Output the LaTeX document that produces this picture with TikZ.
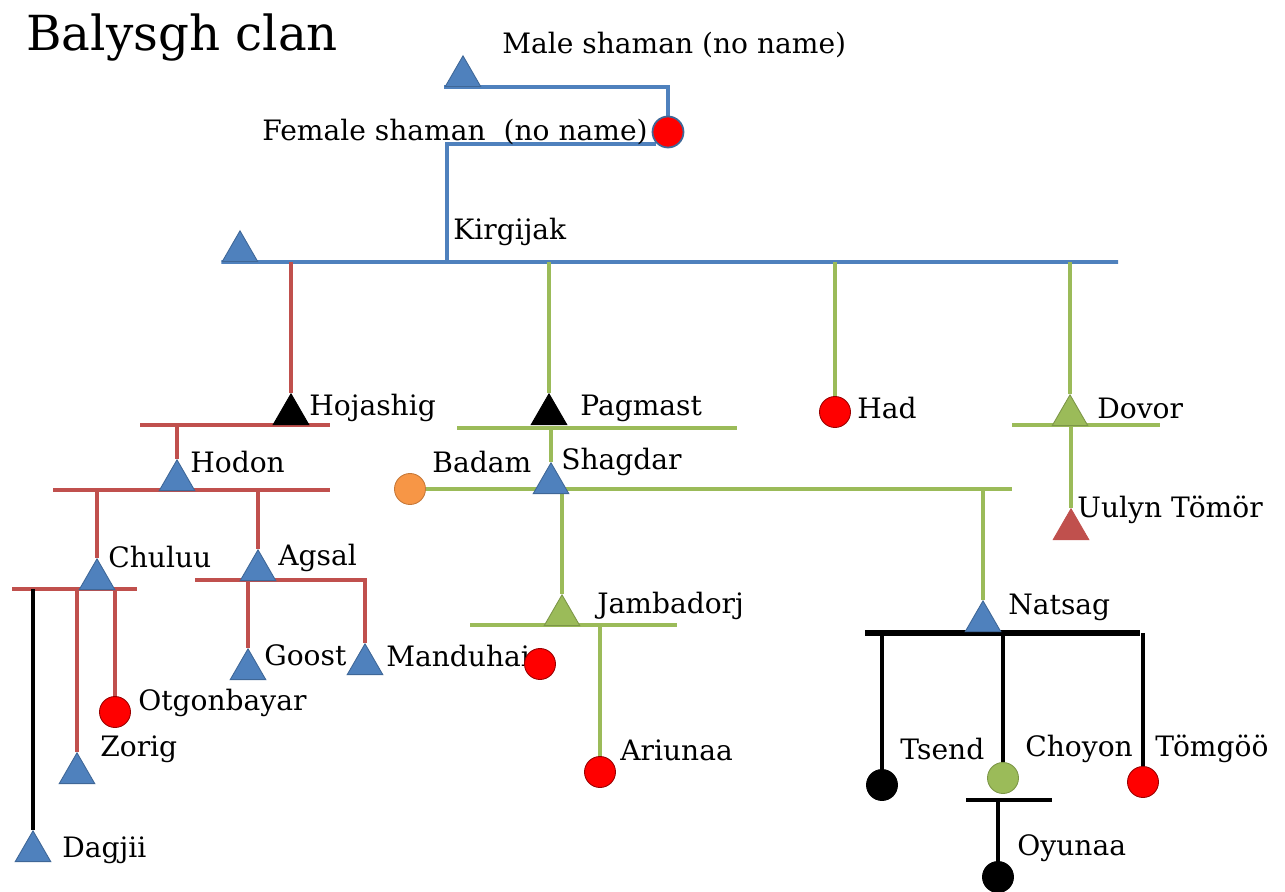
\documentclass[tikz,border=0pt]{standalone}
\usepackage{fontspec}
\setmainfont{DejaVu Serif}
\usetikzlibrary{shapes.geometric,backgrounds}

\definecolor{triblue}{HTML}{4F81BD}
\definecolor{lineblue}{HTML}{4F81BD}
\definecolor{linered}{HTML}{C0504D}
\definecolor{linegreen}{HTML}{9BBB59}
\definecolor{dotorange}{HTML}{F79646}

\tikzset{
  male/.style={regular polygon, regular polygon sides=3, minimum size=0.82cm,
    inner sep=0pt, anchor=south, fill=triblue, draw=triblue!80!black, line width=0.5pt},
  female/.style={circle, minimum size=0.62cm, inner sep=0pt,
    fill=red, draw=red!60!black, line width=0.5pt},
  lbl/.style={anchor=west, inner sep=0pt, font=\fontsize{16}{18}\selectfont},
  blueline/.style={draw=lineblue, line width=2.2pt},
  redline/.style={draw=linered, line width=2.2pt},
  greenline/.style={draw=linegreen, line width=2.2pt},
  blackline/.style={draw=black, line width=2.4pt}
}

\begin{document}
\begin{tikzpicture}[x=0.02cm,y=-0.02cm]
\useasboundingbox (0,0) rectangle (1285,892);

\node[anchor=west, inner sep=0pt, font=\fontsize{27.5}{30}\selectfont] (title) at (26,38) {Balysgh clan};

% labels
\node[lbl] (maleS-l) at (502,45) {Male shaman (no name)};
\node[lbl] (femaleS-l) at (262,132) {Female shaman~ (no name)};
\node[lbl] (kirgijak-l) at (453,232) {Kirgijak};
\node[lbl] (hojashig-l) at (309,408) {Hojashig};
\node[lbl] (hodon-l) at (190,462) {Hodon};
\node[lbl] (chuluu-l) at (108,557) {Chuluu};
\node[lbl] (agsal-l) at (278,558) {Agsal};
\node[lbl] (goost-l) at (264,655) {Goost};
\node[lbl] (manduhai-l) at (386,656) {Manduhai};
\node[lbl] (otgon-l) at (138,703) {Otgonbayar};
\node[lbl] (zorig-l) at (100,749) {Zorig};
\node[lbl] (dagjii-l) at (62,850) {Dagjii};
\node[lbl] (pagmast-l) at (580,408) {Pagmast};
\node[lbl] (had-l) at (857,408) {Had};
\node[lbl] (dovor-l) at (1097,408) {Dovor};
\node[lbl] (badam-l) at (432,462) {Badam};
\node[lbl] (shagdar-l) at (561,462) {Shagdar};
\node[lbl] (jambadorj-l) at (597,606) {Jambadorj};
\node[lbl] (natsag-l) at (1008,607) {Natsag};
\node[lbl] (uulyn-l) at (1077,510) {Uulyn Tömör};
\node[lbl] (ariunaa-l) at (620,750) {Ariunaa};
\node[lbl] (tsend-l) at (900,749) {Tsend};
\node[lbl] (choyon-l) at (1025,749) {Choyon};
\node[lbl] (tomgoo-l) at (1155,749) {Tömgöö};
\node[lbl] (oyunaa-l) at (1017,848) {Oyunaa};

% men
\node[male] (maleS) at (463,87) {};
\node[male] (kirgijak) at (240,262) {};
\node[male, fill=black, draw=black] (hojashig) at (291,425) {};
\node[male] (hodon) at (177,491) {};
\node[male] (chuluu) at (97,590) {};
\node[male] (agsal) at (258,581) {};
\node[male] (goost) at (248,680) {};
\node[male] (manduhai) at (365,675) {};
\node[male] (zorig) at (77,784) {};
\node[male] (dagjii) at (33,862) {};
\node[male, fill=black, draw=black] (pagmast) at (549,425) {};
\node[male] (shagdar) at (551,494) {};
\node[male, fill=linegreen, draw=linegreen!80!black] (jambadorj) at (562,626) {};
\node[male] (natsag) at (983,632) {};
\node[male, fill=linegreen, draw=linegreen!80!black] (dovor) at (1070,426) {};
\node[male, fill=linered, draw=linered] (uulyn) at (1071,540) {};

% women
\node[female, draw=triblue!80!black, line width=1pt] (femaleS) at (668,132) {};
\node[female] (had) at (835,412) {};
\node[female, fill=dotorange, draw=dotorange!80!black] (badam) at (410,489) {};
\node[female] (otgon) at (115,712) {};
\node[female] (jwife) at (540,664) {};
\node[female] (ariunaa) at (600,772) {};
\node[female, fill=black, draw=black] (tsend) at (882,785) {};
\node[female, fill=linegreen, draw=linegreen!80!black] (choyon) at (1003,778) {};
\node[female] (tomgoo) at (1143,782) {};
\node[female, fill=black, draw=black] (oyunaa) at (998,877) {};

% line ends
\coordinate (kdrop) at (447,262);
\coordinate (kline-r) at (1118,262);
\coordinate (hoja-l) at (140,425);
\coordinate (hoja-r) at (330,425);
\coordinate (hodon-a) at (53,490);
\coordinate (hodon-b) at (330,490);
\coordinate (chuluu-a) at (12,589);
\coordinate (chuluu-b) at (137,589);
\coordinate (agsal-a) at (195,580);
\coordinate (pag-a) at (457,428);
\coordinate (pag-b) at (737,428);
\coordinate (shag-b) at (1012,489);
\coordinate (jam-a) at (470,625);
\coordinate (jam-b) at (677,625);
\coordinate (dov-a) at (1012,425);
\coordinate (dov-b) at (1160,425);
\coordinate (nat-a) at (865,633);
\coordinate (nat-b) at (1140,633);
\coordinate (cho-a) at (966,800);
\coordinate (cho-b) at (1052,800);

\begin{scope}[on background layer]
% shamans and Kirgijak
\draw[blueline] (maleS.corner 2) -- (maleS.corner 2 -| femaleS) -- (femaleS.north);
\draw[blueline] (femaleS.225) -- (femaleS.225 -| kdrop) -- (kdrop);
\draw[blueline] (kirgijak.corner 2) -- (kline-r);

% Hojashig branch
\draw[redline] (hojashig.north |- kirgijak.south) -- (hojashig.north);
\draw[redline] (hoja-l) -- (hoja-r);
\draw[redline] (hodon.north |- hoja-l) -- (hodon.north);
\draw[redline] (hodon-a) -- (hodon-b);
\draw[redline] (chuluu.north |- hodon-a) -- (chuluu.north);
\draw[redline] (agsal.north |- hodon-a) -- (agsal.north);
\draw[redline] (chuluu-a) -- (chuluu-b);
\draw[redline] (agsal-a) -- (agsal-a -| manduhai.north) -- (manduhai.north);
\draw[redline] (goost.north |- agsal-a) -- (goost.north);
\draw[redline] (zorig.north |- chuluu-a) -- (zorig.north);
\draw[redline] (otgon.north |- chuluu-a) -- (otgon.north);
\draw[blackline] (dagjii.north |- chuluu-a) -- (dagjii.north);

% Pagmast, Had, Dovor
\draw[greenline] (pagmast.north |- kirgijak.south) -- (pagmast.north);
\draw[greenline] (had.north |- kirgijak.south) -- (had.north);
\draw[greenline] (dovor.north |- kirgijak.south) -- (dovor.north);
\draw[greenline] (pag-a) -- (pag-b);
\draw[greenline] (shagdar.north |- pag-a) -- (shagdar.north);
\draw[greenline] (badam.east) -- (shag-b);
\draw[greenline] (jambadorj.north |- shagdar.south) -- (jambadorj.north);
\draw[greenline] (natsag.north |- shag-b) -- (natsag.north);
\draw[greenline] (jam-a) -- (jam-b);
\draw[greenline] (ariunaa.north |- jam-a) -- (ariunaa.north);
\draw[greenline] (dov-a) -- (dov-b);
\draw[greenline] (uulyn.north |- dovor.south) -- (uulyn.north);

% Natsag
\draw[blackline, line width=3pt] (nat-a) -- (nat-b);
\draw[blackline] (tsend.north |- nat-a) -- (tsend.north);
\draw[blackline] (choyon.north |- nat-a) -- (choyon.north);
\draw[blackline] (tomgoo.north |- nat-a) -- (tomgoo.north);
\draw[blackline] (cho-a) -- (cho-b);
\draw[blackline] (oyunaa.north |- cho-a) -- (oyunaa.north);
\end{scope}
\end{tikzpicture}
\end{document}
